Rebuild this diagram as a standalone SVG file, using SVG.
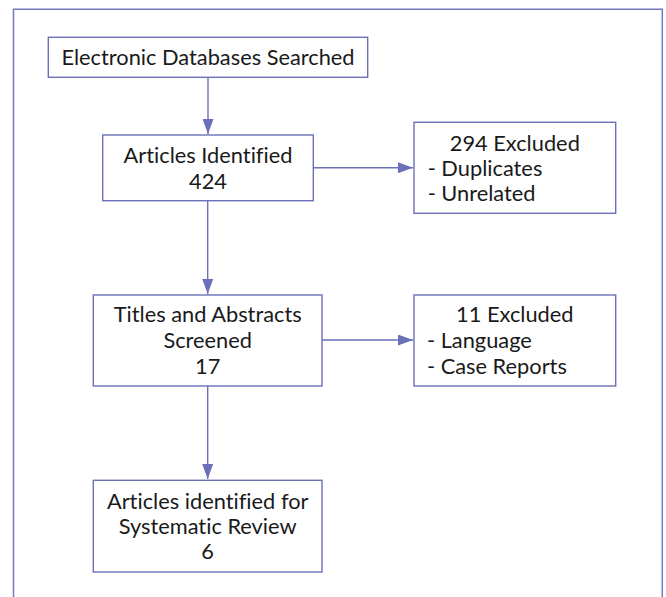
<svg xmlns="http://www.w3.org/2000/svg" width="666" height="597" viewBox="0 0 666 597">
  <style>
    .box { fill: #ffffff; stroke: #6b70b8; stroke-width: 1.4; }
    .frame { fill: none; stroke: #7479bf; stroke-width: 1.5; }
    .edge { fill: none; stroke: #6b70b8; stroke-width: 1.4; }
    .t { font-family: Lato, "Noto Sans", sans-serif; font-size: 21.8px; fill: #1a1a1a; font-variant-ligatures: none; }
    .c { text-anchor: middle; }
  </style>
  <defs>
    <marker id="arrow" viewBox="0 0 15 11" refX="15" refY="5.5" markerWidth="15" markerHeight="11" markerUnits="userSpaceOnUse" orient="auto">
      <path d="M0,0 L15,5.5 L0,11 Z" fill="#6b70b8"/>
    </marker>
  </defs>

  <rect width="666" height="597" fill="#ffffff"/>
  <path class="frame" d="M13.5,600 V9.3 H662.3 V600"/>

  <g id="connectors">
    <path class="edge" d="M208,77.3 V134" marker-end="url(#arrow)"/>
    <path class="edge" d="M313.3,167.7 H413" marker-end="url(#arrow)"/>
    <path class="edge" d="M207.7,200.7 V294" marker-end="url(#arrow)"/>
    <path class="edge" d="M322,340 H413" marker-end="url(#arrow)"/>
    <path class="edge" d="M207.7,386 V479" marker-end="url(#arrow)"/>
  </g>

  <g id="databases">
    <rect class="box" x="48.3" y="37.3" width="319.4" height="40"/>
    <text class="t c" x="208" y="65">Electronic Databases Searched</text>
  </g>

  <g id="identified">
    <rect class="box" x="102.7" y="135" width="210.6" height="65.7"/>
    <text class="t c" x="208" y="162.7">Articles Identified</text>
    <text class="t c" x="208" y="188.5">424</text>
  </g>

  <g id="excluded-1">
    <rect class="box" x="414" y="122.3" width="201.7" height="91"/>
    <text class="t c" x="514.8" y="150.7">294 Excluded</text>
    <text class="t" x="427.7" y="175.5">- Duplicates</text>
    <text class="t" x="427.7" y="200.7">- Unrelated</text>
  </g>

  <g id="screened">
    <rect class="box" x="93.3" y="295" width="228.7" height="91"/>
    <text class="t c" x="207.7" y="322.3">Titles and Abstracts</text>
    <text class="t c" x="207.7" y="348.3">Screened</text>
    <text class="t c" x="207.7" y="374">17</text>
  </g>

  <g id="excluded-2">
    <rect class="box" x="414" y="295" width="201.7" height="91"/>
    <text class="t c" x="514.8" y="322.3">11 Excluded</text>
    <text class="t" x="427" y="348.3">- Language</text>
    <text class="t" x="427" y="374">- Case Reports</text>
  </g>

  <g id="review">
    <rect class="box" x="93.3" y="480.3" width="228.7" height="91.7"/>
    <text class="t c" x="207.7" y="509">Articles identified for</text>
    <text class="t c" x="207.7" y="533.5">Systematic Review</text>
    <text class="t c" x="207.7" y="559.3">6</text>
  </g>
</svg>
